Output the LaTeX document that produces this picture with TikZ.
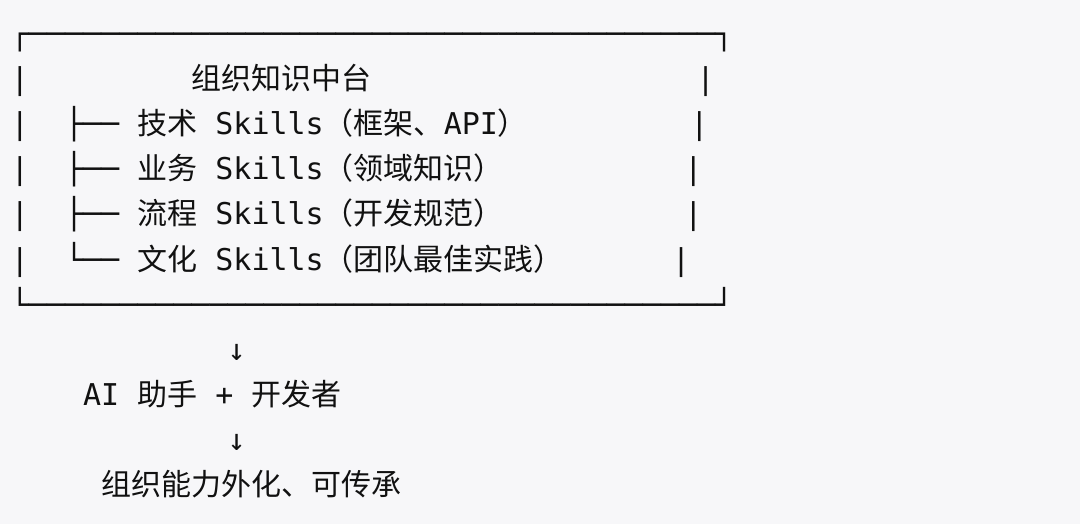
\documentclass[tikz,border=0pt]{standalone}
\usepackage{fontspec}
\newfontfamily\mono{DejaVu Sans Mono}
\newfontfamily\cjk{Noto Sans CJK SC}
\definecolor{bg}{HTML}{F7F7F9}
\definecolor{ink}{HTML}{111111}
\newlength\mycw
\setlength{\mycw}{18.06pt}
\newcommand\mysp[1]{\hspace*{#1\mycw}}
\tikzset{
  line/.style={anchor=base west, inner sep=0pt, outer sep=0pt, text=ink,
    font=\mono\fontsize{30}{45}\selectfont}
}
\begin{document}
\begin{tikzpicture}[x=1pt,y=-1pt]
\fill[bg] (0,0) rectangle (1080,524);
\useasboundingbox (0,0) rectangle (1080,524);
\node[line] (top) at (10.9,45) {┌──────────────────────────────────────┐};
\node[line] (r1) at (10.9,90) {|\mysp{9}{\cjk 组织知识中台}\mysp{18}|};
\node[line] (r2) at (10.9,135) {|\mysp{2}├──\mysp{1}{\cjk 技术}\mysp{1}Skills{\cjk （框架、}API{\cjk ）}\mysp{9}|};
\node[line] (r3) at (10.9,180) {|\mysp{2}├──\mysp{1}{\cjk 业务}\mysp{1}Skills{\cjk （领域知识）}\mysp{10}|};
\node[line] (r4) at (10.9,225) {|\mysp{2}├──\mysp{1}{\cjk 流程}\mysp{1}Skills{\cjk （开发规范）}\mysp{10}|};
\node[line] (r5) at (10.9,270) {|\mysp{2}└──\mysp{1}{\cjk 文化}\mysp{1}Skills{\cjk （团队最佳实践）}\mysp{6}|};
\node[line] (bot) at (10.9,315) {└──────────────────────────────────────┘};
\node[line] (a1) at (10.9,360) {\mysp{12}↓};
\node[line] (mid) at (10.9,405) {\mysp{4}AI\mysp{1}{\cjk 助手}\mysp{1}+\mysp{1}{\cjk 开发者}};
\node[line] (a2) at (10.9,450) {\mysp{12}↓};
\node[line] (end) at (10.9,495) {\mysp{5}{\cjk 组织能力外化、可传承}};
\end{tikzpicture}
\end{document}
